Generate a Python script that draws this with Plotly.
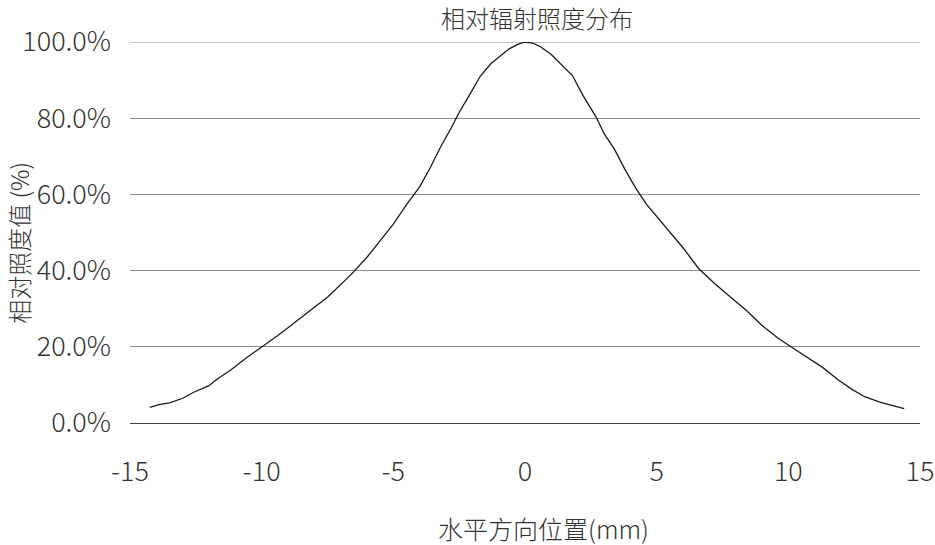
import plotly.graph_objects as go

# Horizontal position (mm)
position_mm = [-14.25, -13.9, -13.5, -13.0, -12.6, -12.0, -11.7, -11.2, -10.6, -10.0,
               -9.4, -9.0, -8.5, -8.0, -7.5, -7.0, -6.6, -6.0, -5.5, -5.0,
               -4.5, -4.0, -3.6, -3.2, -2.8, -2.5, -2.1, -1.7, -1.3, -1.0,
               -0.6, -0.3, 0.0, 0.3, 0.6, 1.0, 1.4, 1.8, 2.2, 2.7,
               3.0, 3.4, 3.8, 4.2, 4.6, 5.1, 5.6, 6.0, 6.6, 7.2,
               7.8, 8.4, 9.0, 9.6, 10.1, 10.7, 11.3, 11.9, 12.4, 12.9,
               13.5, 14.0, 14.4]
# Relative irradiance (%)
relative_pct = [4.1, 4.8, 5.3, 6.5, 8.0, 9.8, 11.5, 13.8, 17.0, 19.9,
                22.9, 25.0, 27.8, 30.4, 33.0, 36.3, 39.0, 43.5, 47.8, 52.2,
                57.3, 62.0, 67.0, 72.5, 77.5, 81.5, 86.2, 91.0, 94.3, 96.0,
                98.2, 99.3, 100.0, 99.7, 98.7, 96.7, 94.0, 91.2, 86.0, 80.3,
                76.0, 71.8, 66.5, 61.7, 57.5, 53.4, 49.4, 46.0, 40.5, 36.6,
                33.1, 29.6, 25.6, 22.3, 20.0, 17.2, 14.6, 11.3, 8.9, 6.9,
                5.4, 4.5, 3.8]

x_ticks = [-15, -10, -5, 0, 5, 10, 15]
y_ticks = [0, 20, 40, 60, 80, 100]
y_tick_labels = ["0.0%", "20.0%", "40.0%", "60.0%", "80.0%", "100.0%"]

FONT = "Noto Sans CJK SC"
TXT = "#333333"

fig = go.Figure()
fig.add_trace(go.Scatter(x=position_mm, y=relative_pct, mode="lines",
                         line=dict(color="#1a1a1a", width=1.3), showlegend=False,
                         cliponaxis=False))

fig.update_layout(
    width=935, height=545,
    margin=dict(l=130, r=15, t=42, b=122),
    paper_bgcolor="white", plot_bgcolor="white",
    font=dict(family=FONT, color=TXT, size=27, weight=300),
    xaxis=dict(range=[-15, 15], tickvals=x_ticks, ticktext=[str(v) for v in x_ticks],
               showgrid=False, zeroline=False, showline=False, automargin=False,
               ticks="", ticklabelstandoff=30,
               tickfont=dict(size=27, color=TXT, family=FONT, weight=300)),
    yaxis=dict(range=[0, 100], tickvals=y_ticks, ticktext=y_tick_labels,
               showgrid=True, gridcolor="#8c8c8c", gridwidth=1,
               zeroline=True, zerolinecolor="#404040", zerolinewidth=1.3,
               showline=False, automargin=False, ticks="", ticklabelstandoff=18,
               tickfont=dict(size=27, color=TXT, family=FONT, weight=300)),
    shapes=[dict(type="line", xref="paper", yref="y", x0=0, x1=1, y0=100, y1=100,
                 line=dict(color="#8c8c8c", width=1), layer="below")],
    annotations=[
        dict(text="相对辐射照度分布", xref="paper", yref="paper", x=0.515, y=1.065,
             yanchor="middle", showarrow=False,
             font=dict(size=24, color=TXT, family=FONT, weight=300)),
        dict(text="相对照度值 (%)", xref="paper", yref="paper", x=-0.141, y=0.472,
             xanchor="center", yanchor="middle", showarrow=False, textangle=-90,
             font=dict(size=24, color=TXT, family=FONT, weight=300)),
        dict(text="水平方向位置(mm)", xref="paper", yref="paper", x=0.523, y=-0.276,
             yanchor="middle", showarrow=False,
             font=dict(size=25, color=TXT, family=FONT, weight=300)),
    ],
)

fig.write_html("out.html", config={"displayModeBar": False},
               post_script="document.body.style.margin='0';")
